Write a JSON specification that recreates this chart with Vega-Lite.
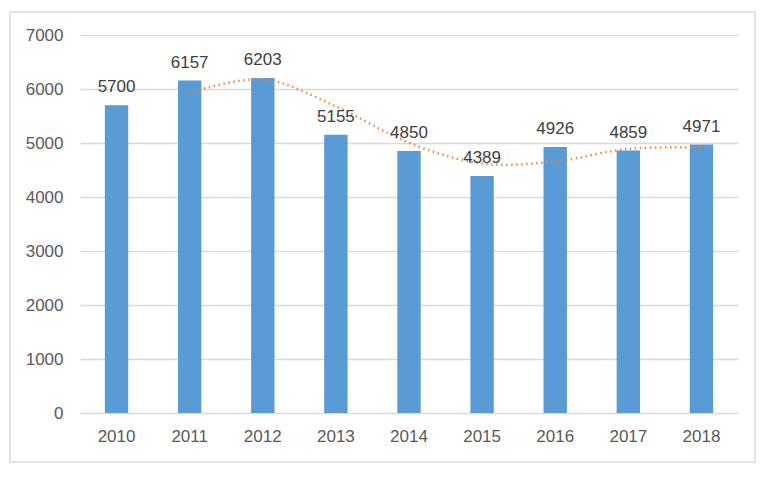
{
  "$schema": "https://vega.github.io/schema/vega-lite/v6.json",
  "autosize": "none",
  "width": 745,
  "height": 450,
  "padding": {"left": 10, "top": 12, "right": 18, "bottom": 40},
  "background": "white",
  "config": {
    "view": {"stroke": "#d9d9d9", "strokeWidth": 1.5},
    "font": "Liberation Sans"
  },
  "data": {
    "values": [
      {"year": "2010", "value": 5700, "trend": null},
      {"year": "2011", "value": 6157, "trend": 5928.5},
      {"year": "2012", "value": 6203, "trend": 6180},
      {"year": "2013", "value": 5155, "trend": 5679},
      {"year": "2014", "value": 4850, "trend": 5002.5},
      {"year": "2015", "value": 4389, "trend": 4619.5},
      {"year": "2016", "value": 4926, "trend": 4657.5},
      {"year": "2017", "value": 4859, "trend": 4892.5},
      {"year": "2018", "value": 4971, "trend": 4915}
    ]
  },
  "encoding": {
    "x": {
      "field": "year",
      "type": "ordinal",
      "scale": {"range": [70, 728], "paddingInner": 0.68, "paddingOuter": 0.34},
      "axis": {
        "title": null,
        "labelAngle": 0,
        "ticks": false,
        "domain": false,
        "offset": -49,
        "labelPadding": 15,
        "labelFontSize": 17,
        "labelColor": "#595959",
        "labelFont": "Liberation Sans"
      }
    }
  },
  "layer": [
    {
      "mark": {"type": "bar", "color": "#5b9bd5"},
      "encoding": {
        "y": {
          "field": "value",
          "type": "quantitative",
          "scale": {"domain": [0, 7000], "range": [401, 23], "nice": false, "zero": true},
          "axis": {
            "title": null,
            "values": [0, 1000, 2000, 3000, 4000, 5000, 6000, 7000],
            "format": "d",
            "grid": true,
            "gridColor": "#d9d9d9",
            "gridWidth": 1.3,
            "ticks": false,
            "domain": false,
            "offset": -60,
            "labelPadding": 7,
            "labelFontSize": 17,
            "labelColor": "#595959",
            "labelFont": "Liberation Sans"
          }
        }
      }
    },
    {
      "mark": {
        "type": "line",
        "color": "#ed7d31",
        "strokeWidth": 2.5,
        "strokeDash": [1.5, 3.5],
        "strokeCap": "butt",
        "opacity": 0.9,
        "interpolate": "catmull-rom"
      },
      "transform": [{"filter": "datum.trend != null"}],
      "encoding": {
        "y": {"field": "trend", "type": "quantitative"}
      }
    },
    {
      "mark": {
        "type": "text",
        "baseline": "alphabetic",
        "dy": -13,
        "fontSize": 17,
        "color": "#404040",
        "font": "Liberation Sans"
      },
      "encoding": {
        "y": {"field": "value", "type": "quantitative"},
        "text": {"field": "value", "type": "quantitative", "format": "d"}
      }
    }
  ]
}
